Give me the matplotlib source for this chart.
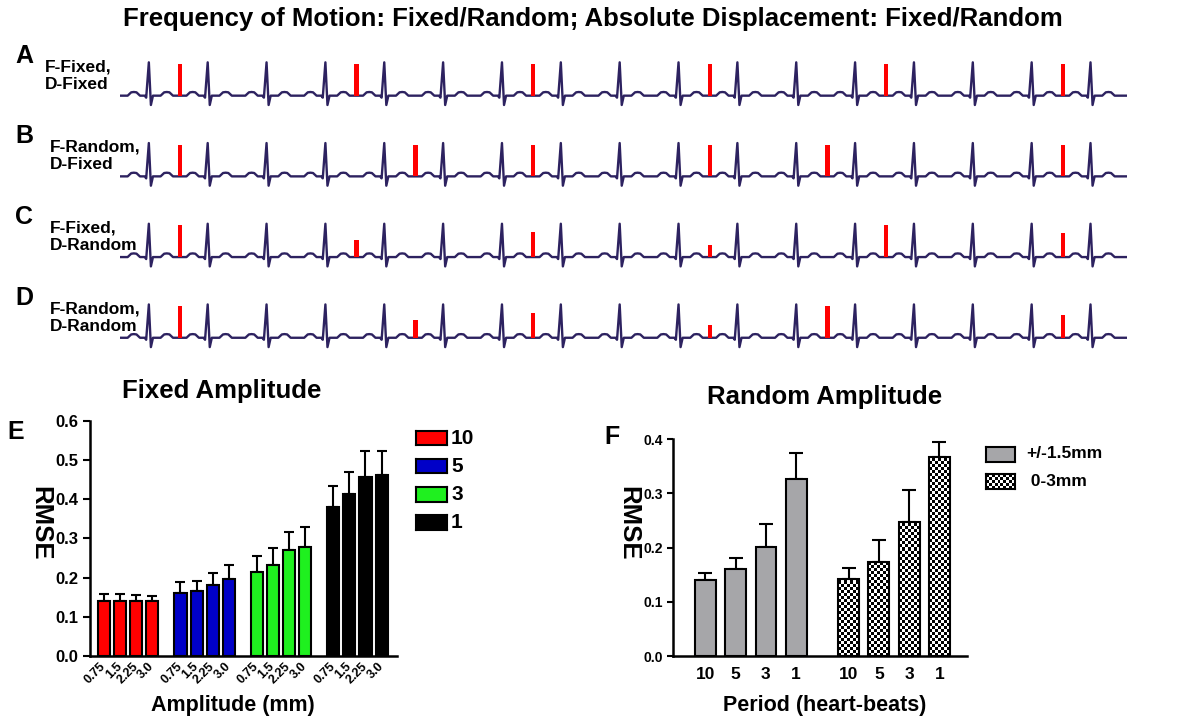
import numpy as np
import matplotlib.pyplot as plt

plt.rcParams['font.family'] = ['Liberation Sans', 'DejaVu Sans']
plt.rcParams['font.weight'] = 'bold'

W, H = 1183, 722

# ---------------- ECG schematic (panels A-D) ----------------
row_letters = ['A', 'B', 'C', 'D']
row_freq = ['F-Fixed,', 'F-Random,', 'F-Fixed,', 'F-Random,']
row_disp = ['D-Fixed', 'D-Fixed', 'D-Random', 'D-Random']
n_beats = 17

# one heart beat: offset from R peak (in beat periods) and amplitude (R = 1)
beat_dx = [-0.36, -0.33, -0.30, -0.255, -0.21, -0.18, -0.15,
           -0.07, -0.045, 0.0, 0.035, 0.07,
           0.20, 0.23, 0.26, 0.305, 0.35, 0.38, 0.41]
beat_dy = [0.0, 0.05, 0.10, 0.11, 0.10, 0.05, 0.0,
           0.0, -0.06, 1.0, -0.28, 0.0,
           0.0, 0.05, 0.10, 0.11, 0.10, 0.05, 0.0]

# motion events: beat after which motion happens, and displacement (mm)
motion_beats_A = [0, 3, 6, 9, 12, 15]
motion_mm_A = [3.0, 3.0, 3.0, 3.0, 3.0, 3.0]
motion_beats_B = [0, 4, 6, 9, 11, 15]
motion_mm_B = [3.0, 3.0, 3.0, 3.0, 3.0, 3.0]
motion_beats_C = [0, 3, 6, 9, 12, 15]
motion_mm_C = [3.0, 1.65, 2.35, 1.15, 3.0, 2.25]
motion_beats_D = [0, 4, 6, 9, 11, 15]
motion_mm_D = [3.0, 1.65, 2.3, 1.2, 3.0, 2.2]

# ---------------- Panel E: fixed amplitude ----------------
amp_labels = ['0.75', '1.5', '2.25', '3.0']
period_labels_E = ['10', '5', '3', '1']
rmse_p10 = [0.140, 0.141, 0.141, 0.140]
err_p10 = [0.017, 0.016, 0.014, 0.013]
rmse_p5 = [0.160, 0.166, 0.182, 0.196]
err_p5 = [0.028, 0.026, 0.029, 0.035]
rmse_p3 = [0.214, 0.231, 0.270, 0.277]
err_p3 = [0.041, 0.044, 0.047, 0.052]
rmse_p1 = [0.381, 0.412, 0.457, 0.461]
err_p1 = [0.053, 0.057, 0.065, 0.063]
colors_E = ['#ff0000', '#0000c8', '#1ff01f', '#000000']

# ---------------- Panel F: random amplitude ----------------
period_labels_F = ['10', '5', '3', '1']
rmse_pm15 = [0.140, 0.161, 0.201, 0.327]
err_pm15 = [0.014, 0.019, 0.042, 0.048]
rmse_0to3 = [0.143, 0.174, 0.248, 0.367]
err_0to3 = [0.019, 0.040, 0.058, 0.028]
legend_F = ['+/-1.5mm', ' 0-3mm']


def fx(x):
    return x / W


def fy(y):
    return 1 - y / H


def checker(nrow, ncol):
    return np.add.outer(np.arange(nrow), np.arange(ncol)) % 2


fig = plt.figure(figsize=(W / 100, H / 100), dpi=100)

fig.text(fx(593), fy(19), 'Frequency of Motion: Fixed/Random; Absolute Displacement: Fixed/Random',
         ha='center', va='center', fontsize=18.5)

rows_beats = [motion_beats_A, motion_beats_B, motion_beats_C, motion_beats_D]
rows_mm = [motion_mm_A, motion_mm_B, motion_mm_C, motion_mm_D]
trace_x = [-0.49]
trace_y = [0.0]
for k in range(n_beats):
    trace_x += [k + d for d in beat_dx]
    trace_y += beat_dy
trace_x.append(16.62)
trace_y.append(0.0)

for r in range(4):
    base = 95.7 + 80.7 * r
    ax = fig.add_axes([fx(120), fy(base + 13.3), fx(1127) - fx(120), 50 / H])
    ax.plot(trace_x, trace_y, color='#2d2260', lw=1.7, solid_joinstyle='round', zorder=2)
    ax.bar(np.array(rows_beats[r]) + 0.53, np.array(rows_mm[r]) / 3.0 * 0.95,
           width=0.075, color='#ff0000', zorder=3)
    ax.set_xlim(-0.49, 16.62)
    ax.set_ylim(-0.4, 1.1)
    ax.axis('off')
    fig.text(fx(24), fy(base - 40), row_letters[r], ha='center', va='center', fontsize=18)
    lx = 45 if r == 0 else 50
    fig.text(fx(lx), fy(base - 29), row_freq[r], ha='left', va='center', fontsize=12.5)
    fig.text(fx(lx), fy(base - 11.5), row_disp[r], ha='left', va='center', fontsize=12.5)

# ---------------- Panel E ----------------
axE = fig.add_axes([fx(90), fy(656), fx(396.7) - fx(90), (656 - 420.7) / H])
groups_E = [(rmse_p10, err_p10), (rmse_p5, err_p5), (rmse_p3, err_p3), (rmse_p1, err_p1)]
xE_all = []
for g, (vals, errs) in enumerate(groups_E):
    xg = g * 4.75 + np.arange(4)
    xE_all += list(xg)
    axE.bar(xg, vals, width=0.75, color=colors_E[g], edgecolor='black', linewidth=1.5, zorder=2)
    axE.errorbar(xg, vals, yerr=[np.zeros(4), errs], fmt='none', ecolor='black',
                 elinewidth=1.5, capsize=3.5, capthick=1.5, zorder=1)
axE.set_xlim(-0.875, 18.19)
axE.set_ylim(0, 0.6)
axE.set_yticks(np.arange(0, 0.61, 0.1))
axE.set_yticklabels(['%.1f' % v for v in np.arange(0, 0.61, 0.1)], fontsize=12)
axE.set_xticks(xE_all)
axE.set_xticklabels(amp_labels * 4, rotation=45, ha='right', va='center',
                    rotation_mode='anchor', fontsize=9)
axE.tick_params(axis='x', length=0, pad=6)
axE.tick_params(axis='y', length=5, width=1.5)
for s in ['top', 'right']:
    axE.spines[s].set_visible(False)
for s in ['left', 'bottom']:
    axE.spines[s].set_linewidth(1.8)

fig.text(fx(222), fy(398), 'Fixed Amplitude', ha='center', va='baseline', fontsize=18.5)
fig.text(fx(16), fy(432), 'E', ha='center', va='center', fontsize=18)
fig.text(fx(40), fy(523), 'RMSE', ha='center', va='center', rotation=270, fontsize=18.5)
fig.text(fx(233), fy(705), 'Amplitude (mm)', ha='center', va='center', fontsize=15.5)

# legend E
for i, lab in enumerate(period_labels_E):
    top = 430.7 + 28.2 * i
    sw = fig.add_axes([fx(416), fy(top + 14.5), 31 / W, 14.5 / H])
    sw.set_facecolor(colors_E[i])
    sw.set_xticks([])
    sw.set_yticks([])
    for s in sw.spines.values():
        s.set_linewidth(1.5)
    fig.text(fx(451), fy(top + 7.5), lab, ha='left', va='center', fontsize=15)

# ---------------- Panel F ----------------
axF = fig.add_axes([fx(673.3), fy(656), fx(967.3) - fx(673.3), (656 - 439.3) / H])
xF1 = np.arange(4)
xF2 = 4.73 + np.arange(4)
wF = 0.69
axF.bar(xF1, rmse_pm15, width=wF, color='#a6a6a9', edgecolor='black', linewidth=1.5, zorder=2)
bars2 = axF.bar(xF2, rmse_0to3, width=wF, facecolor='none', edgecolor='black',
                linewidth=1.5, zorder=3)
axF.errorbar(xF1, rmse_pm15, yerr=[np.zeros(4), err_pm15], fmt='none', ecolor='black',
             elinewidth=1.5, capsize=5, capthick=1.5, zorder=1)
axF.errorbar(xF2, rmse_0to3, yerr=[np.zeros(4), err_0to3], fmt='none', ecolor='black',
             elinewidth=1.5, capsize=5, capthick=1.5, zorder=1)
px_per_unit = (656 - 439.3) / 0.4
cell = 3.0
for b, v in zip(bars2, rmse_0to3):
    nrow = int(np.ceil(v * px_per_unit / cell))
    ncol = 7
    x0 = b.get_x()
    im = axF.imshow(checker(nrow, ncol), cmap='gray', vmin=0, vmax=1, interpolation='nearest',
                    extent=(x0, x0 + wF, 0, nrow * cell / px_per_unit), aspect='auto',
                    origin='lower', zorder=2)
    im.set_clip_path(b)
axF.set_xlim(-1.06, 8.65)
axF.set_ylim(0, 0.4)
axF.set_yticks(np.arange(0, 0.41, 0.1))
axF.set_yticklabels(['%.1f' % v for v in np.arange(0, 0.41, 0.1)], fontsize=10)
axF.set_xticks(list(xF1) + list(xF2))
axF.set_xticklabels(period_labels_F * 2, fontsize=12.5)
axF.tick_params(axis='x', length=0, pad=8)
axF.tick_params(axis='y', length=4, width=1.5)
for s in ['top', 'right']:
    axF.spines[s].set_visible(False)
for s in ['left', 'bottom']:
    axF.spines[s].set_linewidth(1.8)

fig.text(fx(825), fy(404), 'Random Amplitude', ha='center', va='baseline', fontsize=18.5)
fig.text(fx(612), fy(437), 'F', ha='center', va='center', fontsize=18)
fig.text(fx(628), fy(523), 'RMSE', ha='center', va='center', rotation=270, fontsize=18.5)
fig.text(fx(825), fy(705), 'Period (heart-beats)', ha='center', va='center', fontsize=15.5)

# legend F
sw1 = fig.add_axes([fx(986), fy(461.7), 29 / W, 15 / H])
sw1.set_facecolor('#a6a6a9')
sw2 = fig.add_axes([fx(986), fy(488.5), 29 / W, 14.5 / H])
sw2.imshow(checker(5, 10), cmap='gray', vmin=0, vmax=1, interpolation='nearest', aspect='auto')
for sw in (sw1, sw2):
    sw.set_xticks([])
    sw.set_yticks([])
    for s in sw.spines.values():
        s.set_linewidth(1.5)
fig.text(fx(1026), fy(454), legend_F[0], ha='left', va='center', fontsize=12.5)
fig.text(fx(1026), fy(481.5), legend_F[1], ha='left', va='center', fontsize=12.5)

fig.savefig('out.png', dpi=100)
